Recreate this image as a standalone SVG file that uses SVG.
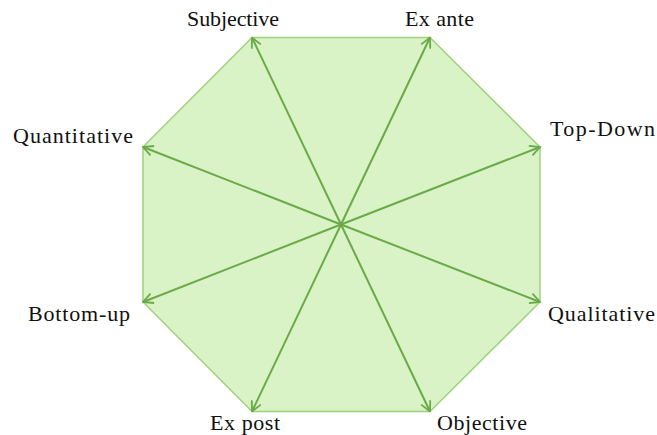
<svg xmlns="http://www.w3.org/2000/svg" width="657" height="435" viewBox="0 0 657 435">
<style>
.lbl{font-family:"Liberation Serif","DejaVu Serif",serif;font-size:22px;fill:#111}
.ar{stroke:#6aaa48;stroke-width:2;fill:none;marker-end:url(#ah)}
</style>
<defs>
<marker id="ah" viewBox="0 0 12 12" refX="11" refY="6" markerWidth="12" markerHeight="12" markerUnits="userSpaceOnUse" orient="auto">
<path d="M1,1 L11,6 L1,11" fill="none" stroke="#6aaa48" stroke-width="1.8"/>
</marker>
</defs>
<rect width="657" height="435" fill="#ffffff"/>
<g id="octagon">
<polygon points="252,37.5 430,37.5 540,147 540,302 430,411.5 252,411.5 143,302 143,147" fill="#d9f2c6" stroke="#9fd27f" stroke-width="1.5"/>
</g>
<g id="connectors">
<line class="ar" x1="341" y1="224.5" x2="252" y2="37.5"/>
<line class="ar" x1="341" y1="224.5" x2="430" y2="37.5"/>
<line class="ar" x1="341" y1="224.5" x2="540" y2="147"/>
<line class="ar" x1="341" y1="224.5" x2="540" y2="302"/>
<line class="ar" x1="341" y1="224.5" x2="430" y2="411.5"/>
<line class="ar" x1="341" y1="224.5" x2="252" y2="411.5"/>
<line class="ar" x1="341" y1="224.5" x2="143" y2="302"/>
<line class="ar" x1="341" y1="224.5" x2="143" y2="147"/>
</g>
<g id="n-subjective"><text class="lbl" x="187" y="26" textLength="92">Subjective</text></g>
<g id="n-exante"><text class="lbl" x="405" y="26" textLength="69">Ex ante</text></g>
<g id="n-topdown"><text class="lbl" x="550" y="136" textLength="105">Top-Down</text></g>
<g id="n-qualitative"><text class="lbl" x="548" y="321" textLength="107">Qualitative</text></g>
<g id="n-objective"><text class="lbl" x="437" y="430" textLength="90">Objective</text></g>
<g id="n-expost"><text class="lbl" x="210" y="430" textLength="70">Ex post</text></g>
<g id="n-bottomup"><text class="lbl" x="28" y="321" textLength="102">Bottom-up</text></g>
<g id="n-quantitative"><text class="lbl" x="13" y="143" textLength="120">Quantitative</text></g>
</svg>
